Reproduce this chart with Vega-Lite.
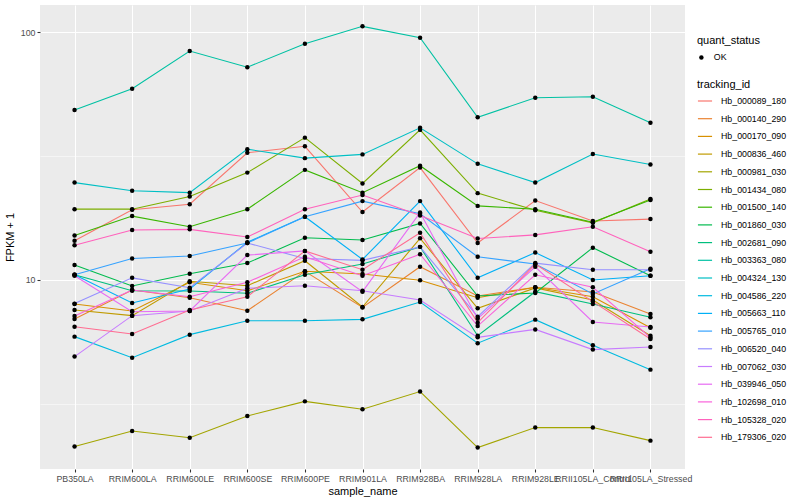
{
"$schema": "https://vega.github.io/schema/vega-lite/v6.json",
"width": 645, "height": 464,
"autosize": {"type": "none"},
"padding": {"left": 40, "top": 5, "right": 115, "bottom": 31},
"background": "white",
"config": {
  "view": {"fill": "#EBEBEB", "stroke": null},
  "font": "Liberation Sans",
  "axis": {"domain": false, "labelFont": "Liberation Sans", "labelFontSize": 8.8, "labelColor": "#4D4D4D", "tickColor": "#333333", "tickSize": 3, "tickWidth": 1.07, "gridColor": "white", "gridWidth": 1.07, "titleFont": "Liberation Sans", "titleFontSize": 11, "titleFontWeight": "normal", "titleColor": "black", "labelPadding": 2},
  "legend": {"titleFont": "Liberation Sans", "titleFontSize": 11, "titleFontWeight": "normal", "titleColor": "black", "labelFont": "Liberation Sans", "labelFontSize": 8.8, "labelColor": "black", "labelOffset": 8}
},
"datasets": {"fpkm": [
{"tracking_id":"Hb_000089_180","sample_name":"PB350LA","fpkm":14.4,"quant_status":"OK"},
{"tracking_id":"Hb_000089_180","sample_name":"RRIM600LA","fpkm":19.2,"quant_status":"OK"},
{"tracking_id":"Hb_000089_180","sample_name":"RRIM600LE","fpkm":20.2,"quant_status":"OK"},
{"tracking_id":"Hb_000089_180","sample_name":"RRIM600SE","fpkm":32.6,"quant_status":"OK"},
{"tracking_id":"Hb_000089_180","sample_name":"RRIM600PE","fpkm":34.6,"quant_status":"OK"},
{"tracking_id":"Hb_000089_180","sample_name":"RRIM901LA","fpkm":18.8,"quant_status":"OK"},
{"tracking_id":"Hb_000089_180","sample_name":"RRIM928BA","fpkm":28.4,"quant_status":"OK"},
{"tracking_id":"Hb_000089_180","sample_name":"RRIM928LA","fpkm":14.1,"quant_status":"OK"},
{"tracking_id":"Hb_000089_180","sample_name":"RRIM928LE","fpkm":20.9,"quant_status":"OK"},
{"tracking_id":"Hb_000089_180","sample_name":"RRII105LA_Control","fpkm":17.3,"quant_status":"OK"},
{"tracking_id":"Hb_000089_180","sample_name":"RRII105LA_Stressed","fpkm":17.6,"quant_status":"OK"},
{"tracking_id":"Hb_000140_290","sample_name":"PB350LA","fpkm":6.96,"quant_status":"OK"},
{"tracking_id":"Hb_000140_290","sample_name":"RRIM600LA","fpkm":9.11,"quant_status":"OK"},
{"tracking_id":"Hb_000140_290","sample_name":"RRIM600LE","fpkm":8.48,"quant_status":"OK"},
{"tracking_id":"Hb_000140_290","sample_name":"RRIM600SE","fpkm":7.52,"quant_status":"OK"},
{"tracking_id":"Hb_000140_290","sample_name":"RRIM600PE","fpkm":10.84,"quant_status":"OK"},
{"tracking_id":"Hb_000140_290","sample_name":"RRIM901LA","fpkm":7.75,"quant_status":"OK"},
{"tracking_id":"Hb_000140_290","sample_name":"RRIM928BA","fpkm":11.31,"quant_status":"OK"},
{"tracking_id":"Hb_000140_290","sample_name":"RRIM928LA","fpkm":8.62,"quant_status":"OK"},
{"tracking_id":"Hb_000140_290","sample_name":"RRIM928LE","fpkm":9.35,"quant_status":"OK"},
{"tracking_id":"Hb_000140_290","sample_name":"RRII105LA_Control","fpkm":8.95,"quant_status":"OK"},
{"tracking_id":"Hb_000140_290","sample_name":"RRII105LA_Stressed","fpkm":7.29,"quant_status":"OK"},
{"tracking_id":"Hb_000170_090","sample_name":"PB350LA","fpkm":8.0,"quant_status":"OK"},
{"tracking_id":"Hb_000170_090","sample_name":"RRIM600LA","fpkm":7.5,"quant_status":"OK"},
{"tracking_id":"Hb_000170_090","sample_name":"RRIM600LE","fpkm":9.79,"quant_status":"OK"},
{"tracking_id":"Hb_000170_090","sample_name":"RRIM600SE","fpkm":9.05,"quant_status":"OK"},
{"tracking_id":"Hb_000170_090","sample_name":"RRIM600PE","fpkm":10.84,"quant_status":"OK"},
{"tracking_id":"Hb_000170_090","sample_name":"RRIM901LA","fpkm":10.57,"quant_status":"OK"},
{"tracking_id":"Hb_000170_090","sample_name":"RRIM928BA","fpkm":9.97,"quant_status":"OK"},
{"tracking_id":"Hb_000170_090","sample_name":"RRIM928LA","fpkm":8.48,"quant_status":"OK"},
{"tracking_id":"Hb_000170_090","sample_name":"RRIM928LE","fpkm":9.35,"quant_status":"OK"},
{"tracking_id":"Hb_000170_090","sample_name":"RRII105LA_Control","fpkm":8.56,"quant_status":"OK"},
{"tracking_id":"Hb_000170_090","sample_name":"RRII105LA_Stressed","fpkm":6.42,"quant_status":"OK"},
{"tracking_id":"Hb_000836_460","sample_name":"PB350LA","fpkm":7.57,"quant_status":"OK"},
{"tracking_id":"Hb_000836_460","sample_name":"RRIM600LA","fpkm":7.18,"quant_status":"OK"},
{"tracking_id":"Hb_000836_460","sample_name":"RRIM600LE","fpkm":9.88,"quant_status":"OK"},
{"tracking_id":"Hb_000836_460","sample_name":"RRIM600SE","fpkm":9.48,"quant_status":"OK"},
{"tracking_id":"Hb_000836_460","sample_name":"RRIM600PE","fpkm":11.96,"quant_status":"OK"},
{"tracking_id":"Hb_000836_460","sample_name":"RRIM901LA","fpkm":7.78,"quant_status":"OK"},
{"tracking_id":"Hb_000836_460","sample_name":"RRIM928BA","fpkm":14.73,"quant_status":"OK"},
{"tracking_id":"Hb_000836_460","sample_name":"RRIM928LA","fpkm":7.69,"quant_status":"OK"},
{"tracking_id":"Hb_000836_460","sample_name":"RRIM928LE","fpkm":9.29,"quant_status":"OK"},
{"tracking_id":"Hb_000836_460","sample_name":"RRII105LA_Control","fpkm":8.31,"quant_status":"OK"},
{"tracking_id":"Hb_000836_460","sample_name":"RRII105LA_Stressed","fpkm":5.96,"quant_status":"OK"},
{"tracking_id":"Hb_000981_030","sample_name":"PB350LA","fpkm":2.13,"quant_status":"OK"},
{"tracking_id":"Hb_000981_030","sample_name":"RRIM600LA","fpkm":2.46,"quant_status":"OK"},
{"tracking_id":"Hb_000981_030","sample_name":"RRIM600LE","fpkm":2.31,"quant_status":"OK"},
{"tracking_id":"Hb_000981_030","sample_name":"RRIM600SE","fpkm":2.83,"quant_status":"OK"},
{"tracking_id":"Hb_000981_030","sample_name":"RRIM600PE","fpkm":3.24,"quant_status":"OK"},
{"tracking_id":"Hb_000981_030","sample_name":"RRIM901LA","fpkm":3.01,"quant_status":"OK"},
{"tracking_id":"Hb_000981_030","sample_name":"RRIM928BA","fpkm":3.55,"quant_status":"OK"},
{"tracking_id":"Hb_000981_030","sample_name":"RRIM928LA","fpkm":2.11,"quant_status":"OK"},
{"tracking_id":"Hb_000981_030","sample_name":"RRIM928LE","fpkm":2.54,"quant_status":"OK"},
{"tracking_id":"Hb_000981_030","sample_name":"RRII105LA_Control","fpkm":2.54,"quant_status":"OK"},
{"tracking_id":"Hb_000981_030","sample_name":"RRII105LA_Stressed","fpkm":2.25,"quant_status":"OK"},
{"tracking_id":"Hb_001434_080","sample_name":"PB350LA","fpkm":19.3,"quant_status":"OK"},
{"tracking_id":"Hb_001434_080","sample_name":"RRIM600LA","fpkm":19.3,"quant_status":"OK"},
{"tracking_id":"Hb_001434_080","sample_name":"RRIM600LE","fpkm":21.7,"quant_status":"OK"},
{"tracking_id":"Hb_001434_080","sample_name":"RRIM600SE","fpkm":27.1,"quant_status":"OK"},
{"tracking_id":"Hb_001434_080","sample_name":"RRIM600PE","fpkm":37.5,"quant_status":"OK"},
{"tracking_id":"Hb_001434_080","sample_name":"RRIM901LA","fpkm":24.5,"quant_status":"OK"},
{"tracking_id":"Hb_001434_080","sample_name":"RRIM928BA","fpkm":40.3,"quant_status":"OK"},
{"tracking_id":"Hb_001434_080","sample_name":"RRIM928LA","fpkm":22.4,"quant_status":"OK"},
{"tracking_id":"Hb_001434_080","sample_name":"RRIM928LE","fpkm":19.1,"quant_status":"OK"},
{"tracking_id":"Hb_001434_080","sample_name":"RRII105LA_Control","fpkm":17.0,"quant_status":"OK"},
{"tracking_id":"Hb_001434_080","sample_name":"RRII105LA_Stressed","fpkm":21.2,"quant_status":"OK"},
{"tracking_id":"Hb_001500_140","sample_name":"PB350LA","fpkm":15.1,"quant_status":"OK"},
{"tracking_id":"Hb_001500_140","sample_name":"RRIM600LA","fpkm":18.1,"quant_status":"OK"},
{"tracking_id":"Hb_001500_140","sample_name":"RRIM600LE","fpkm":16.4,"quant_status":"OK"},
{"tracking_id":"Hb_001500_140","sample_name":"RRIM600SE","fpkm":19.3,"quant_status":"OK"},
{"tracking_id":"Hb_001500_140","sample_name":"RRIM600PE","fpkm":27.8,"quant_status":"OK"},
{"tracking_id":"Hb_001500_140","sample_name":"RRIM901LA","fpkm":22.5,"quant_status":"OK"},
{"tracking_id":"Hb_001500_140","sample_name":"RRIM928BA","fpkm":28.9,"quant_status":"OK"},
{"tracking_id":"Hb_001500_140","sample_name":"RRIM928LA","fpkm":19.9,"quant_status":"OK"},
{"tracking_id":"Hb_001500_140","sample_name":"RRIM928LE","fpkm":19.3,"quant_status":"OK"},
{"tracking_id":"Hb_001500_140","sample_name":"RRII105LA_Control","fpkm":17.1,"quant_status":"OK"},
{"tracking_id":"Hb_001500_140","sample_name":"RRII105LA_Stressed","fpkm":21.0,"quant_status":"OK"},
{"tracking_id":"Hb_001860_030","sample_name":"PB350LA","fpkm":11.5,"quant_status":"OK"},
{"tracking_id":"Hb_001860_030","sample_name":"RRIM600LA","fpkm":9.46,"quant_status":"OK"},
{"tracking_id":"Hb_001860_030","sample_name":"RRIM600LE","fpkm":10.6,"quant_status":"OK"},
{"tracking_id":"Hb_001860_030","sample_name":"RRIM600SE","fpkm":11.7,"quant_status":"OK"},
{"tracking_id":"Hb_001860_030","sample_name":"RRIM600PE","fpkm":14.8,"quant_status":"OK"},
{"tracking_id":"Hb_001860_030","sample_name":"RRIM901LA","fpkm":14.5,"quant_status":"OK"},
{"tracking_id":"Hb_001860_030","sample_name":"RRIM928BA","fpkm":16.9,"quant_status":"OK"},
{"tracking_id":"Hb_001860_030","sample_name":"RRIM928LA","fpkm":8.62,"quant_status":"OK"},
{"tracking_id":"Hb_001860_030","sample_name":"RRIM928LE","fpkm":8.86,"quant_status":"OK"},
{"tracking_id":"Hb_001860_030","sample_name":"RRII105LA_Control","fpkm":13.5,"quant_status":"OK"},
{"tracking_id":"Hb_001860_030","sample_name":"RRII105LA_Stressed","fpkm":10.4,"quant_status":"OK"},
{"tracking_id":"Hb_002681_090","sample_name":"PB350LA","fpkm":10.5,"quant_status":"OK"},
{"tracking_id":"Hb_002681_090","sample_name":"RRIM600LA","fpkm":9.05,"quant_status":"OK"},
{"tracking_id":"Hb_002681_090","sample_name":"RRIM600LE","fpkm":9.03,"quant_status":"OK"},
{"tracking_id":"Hb_002681_090","sample_name":"RRIM600SE","fpkm":8.84,"quant_status":"OK"},
{"tracking_id":"Hb_002681_090","sample_name":"RRIM600PE","fpkm":10.5,"quant_status":"OK"},
{"tracking_id":"Hb_002681_090","sample_name":"RRIM901LA","fpkm":11.6,"quant_status":"OK"},
{"tracking_id":"Hb_002681_090","sample_name":"RRIM928BA","fpkm":13.6,"quant_status":"OK"},
{"tracking_id":"Hb_002681_090","sample_name":"RRIM928LA","fpkm":5.96,"quant_status":"OK"},
{"tracking_id":"Hb_002681_090","sample_name":"RRIM928LE","fpkm":8.97,"quant_status":"OK"},
{"tracking_id":"Hb_002681_090","sample_name":"RRII105LA_Control","fpkm":8.0,"quant_status":"OK"},
{"tracking_id":"Hb_002681_090","sample_name":"RRII105LA_Stressed","fpkm":7.07,"quant_status":"OK"},
{"tracking_id":"Hb_003363_080","sample_name":"PB350LA","fpkm":48.5,"quant_status":"OK"},
{"tracking_id":"Hb_003363_080","sample_name":"RRIM600LA","fpkm":59.1,"quant_status":"OK"},
{"tracking_id":"Hb_003363_080","sample_name":"RRIM600LE","fpkm":83.8,"quant_status":"OK"},
{"tracking_id":"Hb_003363_080","sample_name":"RRIM600SE","fpkm":72.1,"quant_status":"OK"},
{"tracking_id":"Hb_003363_080","sample_name":"RRIM600PE","fpkm":89.7,"quant_status":"OK"},
{"tracking_id":"Hb_003363_080","sample_name":"RRIM901LA","fpkm":105.4,"quant_status":"OK"},
{"tracking_id":"Hb_003363_080","sample_name":"RRIM928BA","fpkm":94.8,"quant_status":"OK"},
{"tracking_id":"Hb_003363_080","sample_name":"RRIM928LA","fpkm":45.3,"quant_status":"OK"},
{"tracking_id":"Hb_003363_080","sample_name":"RRIM928LE","fpkm":54.3,"quant_status":"OK"},
{"tracking_id":"Hb_003363_080","sample_name":"RRII105LA_Control","fpkm":54.8,"quant_status":"OK"},
{"tracking_id":"Hb_003363_080","sample_name":"RRII105LA_Stressed","fpkm":43.1,"quant_status":"OK"},
{"tracking_id":"Hb_004324_130","sample_name":"PB350LA","fpkm":24.7,"quant_status":"OK"},
{"tracking_id":"Hb_004324_130","sample_name":"RRIM600LA","fpkm":22.9,"quant_status":"OK"},
{"tracking_id":"Hb_004324_130","sample_name":"RRIM600LE","fpkm":22.5,"quant_status":"OK"},
{"tracking_id":"Hb_004324_130","sample_name":"RRIM600SE","fpkm":33.7,"quant_status":"OK"},
{"tracking_id":"Hb_004324_130","sample_name":"RRIM600PE","fpkm":31.0,"quant_status":"OK"},
{"tracking_id":"Hb_004324_130","sample_name":"RRIM901LA","fpkm":32.1,"quant_status":"OK"},
{"tracking_id":"Hb_004324_130","sample_name":"RRIM928BA","fpkm":41.1,"quant_status":"OK"},
{"tracking_id":"Hb_004324_130","sample_name":"RRIM928LA","fpkm":29.4,"quant_status":"OK"},
{"tracking_id":"Hb_004324_130","sample_name":"RRIM928LE","fpkm":24.7,"quant_status":"OK"},
{"tracking_id":"Hb_004324_130","sample_name":"RRII105LA_Control","fpkm":32.2,"quant_status":"OK"},
{"tracking_id":"Hb_004324_130","sample_name":"RRII105LA_Stressed","fpkm":29.2,"quant_status":"OK"},
{"tracking_id":"Hb_004586_220","sample_name":"PB350LA","fpkm":5.91,"quant_status":"OK"},
{"tracking_id":"Hb_004586_220","sample_name":"RRIM600LA","fpkm":4.86,"quant_status":"OK"},
{"tracking_id":"Hb_004586_220","sample_name":"RRIM600LE","fpkm":6.02,"quant_status":"OK"},
{"tracking_id":"Hb_004586_220","sample_name":"RRIM600SE","fpkm":6.85,"quant_status":"OK"},
{"tracking_id":"Hb_004586_220","sample_name":"RRIM600PE","fpkm":6.85,"quant_status":"OK"},
{"tracking_id":"Hb_004586_220","sample_name":"RRIM901LA","fpkm":6.94,"quant_status":"OK"},
{"tracking_id":"Hb_004586_220","sample_name":"RRIM928BA","fpkm":8.15,"quant_status":"OK"},
{"tracking_id":"Hb_004586_220","sample_name":"RRIM928LA","fpkm":5.56,"quant_status":"OK"},
{"tracking_id":"Hb_004586_220","sample_name":"RRIM928LE","fpkm":6.92,"quant_status":"OK"},
{"tracking_id":"Hb_004586_220","sample_name":"RRII105LA_Control","fpkm":5.45,"quant_status":"OK"},
{"tracking_id":"Hb_004586_220","sample_name":"RRII105LA_Stressed","fpkm":4.35,"quant_status":"OK"},
{"tracking_id":"Hb_005663_110","sample_name":"PB350LA","fpkm":10.5,"quant_status":"OK"},
{"tracking_id":"Hb_005663_110","sample_name":"RRIM600LA","fpkm":8.08,"quant_status":"OK"},
{"tracking_id":"Hb_005663_110","sample_name":"RRIM600LE","fpkm":9.2,"quant_status":"OK"},
{"tracking_id":"Hb_005663_110","sample_name":"RRIM600SE","fpkm":14.2,"quant_status":"OK"},
{"tracking_id":"Hb_005663_110","sample_name":"RRIM600PE","fpkm":18.0,"quant_status":"OK"},
{"tracking_id":"Hb_005663_110","sample_name":"RRIM901LA","fpkm":12.1,"quant_status":"OK"},
{"tracking_id":"Hb_005663_110","sample_name":"RRIM928BA","fpkm":20.8,"quant_status":"OK"},
{"tracking_id":"Hb_005663_110","sample_name":"RRIM928LA","fpkm":10.2,"quant_status":"OK"},
{"tracking_id":"Hb_005663_110","sample_name":"RRIM928LE","fpkm":12.9,"quant_status":"OK"},
{"tracking_id":"Hb_005663_110","sample_name":"RRII105LA_Control","fpkm":10.0,"quant_status":"OK"},
{"tracking_id":"Hb_005663_110","sample_name":"RRII105LA_Stressed","fpkm":10.4,"quant_status":"OK"},
{"tracking_id":"Hb_005765_010","sample_name":"PB350LA","fpkm":10.5,"quant_status":"OK"},
{"tracking_id":"Hb_005765_010","sample_name":"RRIM600LA","fpkm":12.2,"quant_status":"OK"},
{"tracking_id":"Hb_005765_010","sample_name":"RRIM600LE","fpkm":12.5,"quant_status":"OK"},
{"tracking_id":"Hb_005765_010","sample_name":"RRIM600SE","fpkm":14.1,"quant_status":"OK"},
{"tracking_id":"Hb_005765_010","sample_name":"RRIM600PE","fpkm":18.0,"quant_status":"OK"},
{"tracking_id":"Hb_005765_010","sample_name":"RRIM901LA","fpkm":20.8,"quant_status":"OK"},
{"tracking_id":"Hb_005765_010","sample_name":"RRIM928BA","fpkm":18.5,"quant_status":"OK"},
{"tracking_id":"Hb_005765_010","sample_name":"RRIM928LA","fpkm":12.4,"quant_status":"OK"},
{"tracking_id":"Hb_005765_010","sample_name":"RRIM928LE","fpkm":11.6,"quant_status":"OK"},
{"tracking_id":"Hb_005765_010","sample_name":"RRII105LA_Control","fpkm":8.78,"quant_status":"OK"},
{"tracking_id":"Hb_005765_010","sample_name":"RRII105LA_Stressed","fpkm":11.1,"quant_status":"OK"},
{"tracking_id":"Hb_006520_040","sample_name":"PB350LA","fpkm":8.03,"quant_status":"OK"},
{"tracking_id":"Hb_006520_040","sample_name":"RRIM600LA","fpkm":10.2,"quant_status":"OK"},
{"tracking_id":"Hb_006520_040","sample_name":"RRIM600LE","fpkm":9.31,"quant_status":"OK"},
{"tracking_id":"Hb_006520_040","sample_name":"RRIM600SE","fpkm":14.1,"quant_status":"OK"},
{"tracking_id":"Hb_006520_040","sample_name":"RRIM600PE","fpkm":12.2,"quant_status":"OK"},
{"tracking_id":"Hb_006520_040","sample_name":"RRIM901LA","fpkm":12.0,"quant_status":"OK"},
{"tracking_id":"Hb_006520_040","sample_name":"RRIM928BA","fpkm":13.6,"quant_status":"OK"},
{"tracking_id":"Hb_006520_040","sample_name":"RRIM928LA","fpkm":7.11,"quant_status":"OK"},
{"tracking_id":"Hb_006520_040","sample_name":"RRIM928LE","fpkm":11.7,"quant_status":"OK"},
{"tracking_id":"Hb_006520_040","sample_name":"RRII105LA_Control","fpkm":11.0,"quant_status":"OK"},
{"tracking_id":"Hb_006520_040","sample_name":"RRII105LA_Stressed","fpkm":11.0,"quant_status":"OK"},
{"tracking_id":"Hb_007062_030","sample_name":"PB350LA","fpkm":4.91,"quant_status":"OK"},
{"tracking_id":"Hb_007062_030","sample_name":"RRIM600LA","fpkm":7.18,"quant_status":"OK"},
{"tracking_id":"Hb_007062_030","sample_name":"RRIM600LE","fpkm":7.5,"quant_status":"OK"},
{"tracking_id":"Hb_007062_030","sample_name":"RRIM600SE","fpkm":9.26,"quant_status":"OK"},
{"tracking_id":"Hb_007062_030","sample_name":"RRIM600PE","fpkm":9.48,"quant_status":"OK"},
{"tracking_id":"Hb_007062_030","sample_name":"RRIM901LA","fpkm":9.05,"quant_status":"OK"},
{"tracking_id":"Hb_007062_030","sample_name":"RRIM928BA","fpkm":8.31,"quant_status":"OK"},
{"tracking_id":"Hb_007062_030","sample_name":"RRIM928LA","fpkm":5.87,"quant_status":"OK"},
{"tracking_id":"Hb_007062_030","sample_name":"RRIM928LE","fpkm":6.32,"quant_status":"OK"},
{"tracking_id":"Hb_007062_030","sample_name":"RRII105LA_Control","fpkm":5.24,"quant_status":"OK"},
{"tracking_id":"Hb_007062_030","sample_name":"RRII105LA_Stressed","fpkm":5.37,"quant_status":"OK"},
{"tracking_id":"Hb_039946_050","sample_name":"PB350LA","fpkm":10.4,"quant_status":"OK"},
{"tracking_id":"Hb_039946_050","sample_name":"RRIM600LA","fpkm":7.45,"quant_status":"OK"},
{"tracking_id":"Hb_039946_050","sample_name":"RRIM600LE","fpkm":7.5,"quant_status":"OK"},
{"tracking_id":"Hb_039946_050","sample_name":"RRIM600SE","fpkm":12.6,"quant_status":"OK"},
{"tracking_id":"Hb_039946_050","sample_name":"RRIM600PE","fpkm":13.1,"quant_status":"OK"},
{"tracking_id":"Hb_039946_050","sample_name":"RRIM901LA","fpkm":8.97,"quant_status":"OK"},
{"tracking_id":"Hb_039946_050","sample_name":"RRIM928BA","fpkm":18.7,"quant_status":"OK"},
{"tracking_id":"Hb_039946_050","sample_name":"RRIM928LA","fpkm":6.98,"quant_status":"OK"},
{"tracking_id":"Hb_039946_050","sample_name":"RRIM928LE","fpkm":11.3,"quant_status":"OK"},
{"tracking_id":"Hb_039946_050","sample_name":"RRII105LA_Control","fpkm":6.77,"quant_status":"OK"},
{"tracking_id":"Hb_039946_050","sample_name":"RRII105LA_Stressed","fpkm":6.46,"quant_status":"OK"},
{"tracking_id":"Hb_102698_010","sample_name":"PB350LA","fpkm":7.16,"quant_status":"OK"},
{"tracking_id":"Hb_102698_010","sample_name":"RRIM600LA","fpkm":9.11,"quant_status":"OK"},
{"tracking_id":"Hb_102698_010","sample_name":"RRIM600LE","fpkm":8.56,"quant_status":"OK"},
{"tracking_id":"Hb_102698_010","sample_name":"RRIM600SE","fpkm":9.79,"quant_status":"OK"},
{"tracking_id":"Hb_102698_010","sample_name":"RRIM600PE","fpkm":12.4,"quant_status":"OK"},
{"tracking_id":"Hb_102698_010","sample_name":"RRIM901LA","fpkm":10.4,"quant_status":"OK"},
{"tracking_id":"Hb_102698_010","sample_name":"RRIM928BA","fpkm":12.7,"quant_status":"OK"},
{"tracking_id":"Hb_102698_010","sample_name":"RRIM928LA","fpkm":6.52,"quant_status":"OK"},
{"tracking_id":"Hb_102698_010","sample_name":"RRIM928LE","fpkm":10.5,"quant_status":"OK"},
{"tracking_id":"Hb_102698_010","sample_name":"RRII105LA_Control","fpkm":9.35,"quant_status":"OK"},
{"tracking_id":"Hb_102698_010","sample_name":"RRII105LA_Stressed","fpkm":5.86,"quant_status":"OK"},
{"tracking_id":"Hb_105328_020","sample_name":"PB350LA","fpkm":13.8,"quant_status":"OK"},
{"tracking_id":"Hb_105328_020","sample_name":"RRIM600LA","fpkm":15.9,"quant_status":"OK"},
{"tracking_id":"Hb_105328_020","sample_name":"RRIM600LE","fpkm":16.0,"quant_status":"OK"},
{"tracking_id":"Hb_105328_020","sample_name":"RRIM600SE","fpkm":14.9,"quant_status":"OK"},
{"tracking_id":"Hb_105328_020","sample_name":"RRIM600PE","fpkm":19.3,"quant_status":"OK"},
{"tracking_id":"Hb_105328_020","sample_name":"RRIM901LA","fpkm":22.0,"quant_status":"OK"},
{"tracking_id":"Hb_105328_020","sample_name":"RRIM928BA","fpkm":18.2,"quant_status":"OK"},
{"tracking_id":"Hb_105328_020","sample_name":"RRIM928LA","fpkm":14.7,"quant_status":"OK"},
{"tracking_id":"Hb_105328_020","sample_name":"RRIM928LE","fpkm":15.2,"quant_status":"OK"},
{"tracking_id":"Hb_105328_020","sample_name":"RRII105LA_Control","fpkm":16.4,"quant_status":"OK"},
{"tracking_id":"Hb_105328_020","sample_name":"RRII105LA_Stressed","fpkm":13.0,"quant_status":"OK"},
{"tracking_id":"Hb_179306_020","sample_name":"PB350LA","fpkm":6.48,"quant_status":"OK"},
{"tracking_id":"Hb_179306_020","sample_name":"RRIM600LA","fpkm":6.06,"quant_status":"OK"},
{"tracking_id":"Hb_179306_020","sample_name":"RRIM600LE","fpkm":7.57,"quant_status":"OK"},
{"tracking_id":"Hb_179306_020","sample_name":"RRIM600SE","fpkm":8.56,"quant_status":"OK"},
{"tracking_id":"Hb_179306_020","sample_name":"RRIM600PE","fpkm":13.1,"quant_status":"OK"},
{"tracking_id":"Hb_179306_020","sample_name":"RRIM901LA","fpkm":11.0,"quant_status":"OK"},
{"tracking_id":"Hb_179306_020","sample_name":"RRIM928BA","fpkm":15.5,"quant_status":"OK"},
{"tracking_id":"Hb_179306_020","sample_name":"RRIM928LA","fpkm":6.73,"quant_status":"OK"},
{"tracking_id":"Hb_179306_020","sample_name":"RRIM928LE","fpkm":11.6,"quant_status":"OK"},
{"tracking_id":"Hb_179306_020","sample_name":"RRII105LA_Control","fpkm":8.18,"quant_status":"OK"},
{"tracking_id":"Hb_179306_020","sample_name":"RRII105LA_Stressed","fpkm":5.78,"quant_status":"OK"}
]},
"data": {"name": "fpkm"},
"encoding": {
  "x": {"field": "sample_name", "type": "nominal", "title": "sample_name",
        "sort": ["PB350LA","RRIM600LA","RRIM600LE","RRIM600SE","RRIM600PE","RRIM901LA","RRIM928BA","RRIM928LA","RRIM928LE","RRII105LA_Control","RRII105LA_Stressed"],
        "scale": {"type": "point", "padding": 0.6},
        "axis": {"labelAngle": 0, "labelOverlap": false, "labelBound": false, "grid": true, "titlePadding": 3}},
  "y": {"field": "fpkm", "type": "quantitative", "title": "FPKM + 1",
        "scale": {"type": "log", "domain": [1.729, 128.5], "nice": false, "zero": false},
        "axis": {"values": [3.1623, 10, 31.623, 100],
                 "labelExpr": "datum.value == 10 ? '10' : datum.value == 100 ? '100' : ''",
                 "gridWidth": {"condition": {"test": "datum.value == 10 || datum.value == 100", "value": 1.07}, "value": 0.53},
                 "tickOpacity": {"condition": {"test": "datum.value == 10 || datum.value == 100", "value": 1}, "value": 0},
                 "titlePadding": 5}}
},
"layer": [
  {"mark": {"type": "line", "strokeWidth": 1.1},
   "encoding": {"color": {"field": "tracking_id", "type": "nominal", "title": "tracking_id",
      "scale": {"range": ["#F8766D","#EA8331","#D89000","#C09B00","#A3A500","#7CAE00","#39B600","#00BB4E","#00BF7D","#00C1A3","#00BFC4","#00BAE0","#00B0F6","#35A2FF","#9590FF","#C77CFF","#E76BF3","#FA62DB","#FF62BC","#FF6C91"]},
      "legend": {"orient": "none", "legendX": 657, "legendY": 74, "symbolType": "stroke", "symbolSize": 200, "symbolStrokeWidth": 1.2, "rowPadding": 4.7, "titlePadding": 3}}}},
  {"mark": {"type": "point", "filled": true, "size": 20, "opacity": 1, "color": "black"},
   "encoding": {"shape": {"field": "quant_status", "type": "nominal", "title": "quant_status",
      "scale": {"range": ["circle"]},
      "legend": {"orient": "none", "legendX": 657, "legendY": 30, "symbolSize": 20, "symbolFillColor": "black", "symbolStrokeColor": "black", "titlePadding": 7}},
      "detail": {"field": "tracking_id"}}}
]
}
